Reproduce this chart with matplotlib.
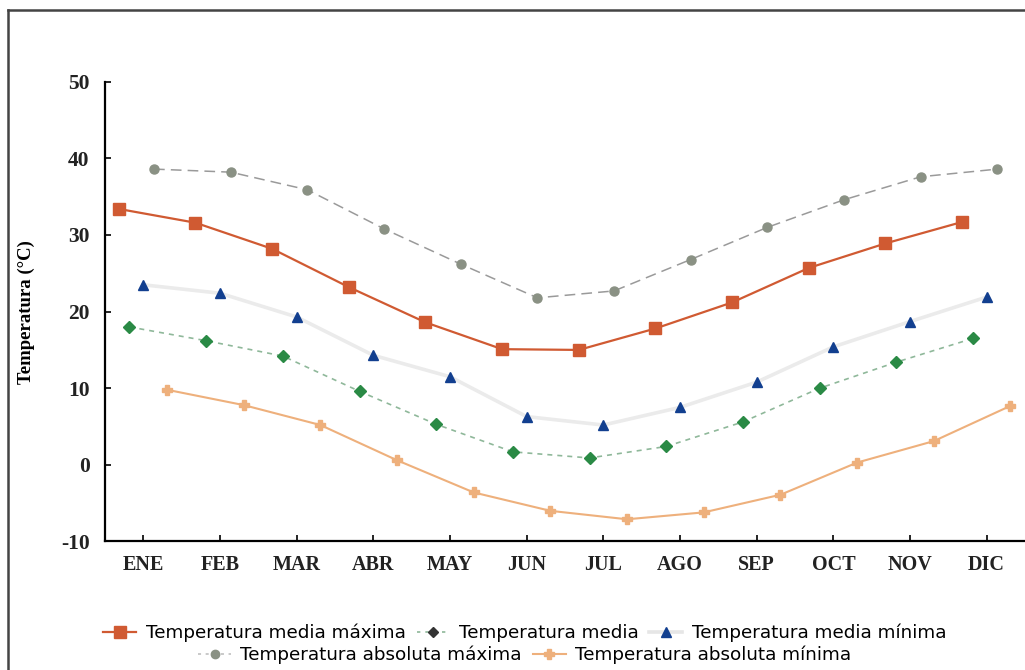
import matplotlib
matplotlib.use('Agg')
import matplotlib.pyplot as plt
import numpy as np
from matplotlib.lines import Line2D

plt.rcParams['axes.unicode_minus'] = False

meses = ['ENE', 'FEB', 'MAR', 'ABR', 'MAY', 'JUN', 'JUL', 'AGO', 'SEP', 'OCT', 'NOV', 'DIC']
media_maxima = [33.4, 31.6, 28.2, 23.2, 18.6, 15.1, 15.0, 17.8, 21.2, 25.7, 28.9, 31.7]
media = [18.0, 16.2, 14.2, 9.6, 5.3, 1.7, 0.9, 2.4, 5.6, 10.0, 13.4, 16.5]
media_minima = [23.5, 22.4, 19.3, 14.3, 11.5, 6.3, 5.2, 7.5, 10.8, 15.4, 18.7, 21.9]
absoluta_maxima = [38.6, 38.2, 35.9, 30.8, 26.2, 21.8, 22.7, 26.8, 31.0, 34.6, 37.6, 38.6]
absoluta_minima = [9.8, 7.8, 5.2, 0.6, -3.6, -6.0, -7.1, -6.2, -3.9, 0.3, 3.1, 7.7]

x = np.arange(len(meses))

fig = plt.figure(figsize=(10.25, 6.7), dpi=100)
ax = fig.add_axes([0.1024, 0.1918, 0.8976, 0.6862])

c_rojo = '#d05a32'
c_verde = '#2a8a45'
c_azul = '#123f8f'
c_gris = '#8a9184'
c_naranja = '#eeb07c'

# cada serie va desplazada dentro de su mes, como en el original
ax.plot(x - 0.32, media_maxima, color=c_rojo, lw=1.6, marker='s', ms=8, zorder=5)
ax.plot(x - 0.18, media, color='#8fb89a', lw=1.2, ls=(0, (3, 3)), marker='D',
        ms=6, mfc=c_verde, mec=c_verde, zorder=4)
ax.plot(x, media_minima, color='#ebebeb', lw=2.6, marker='^', ms=7.5,
        mfc=c_azul, mec=c_azul, zorder=3)
ax.plot(x + 0.14, absoluta_maxima, color='#9a9a9a', lw=1.1, ls=(0, (7, 4)), marker='o',
        ms=6.5, mfc=c_gris, mec=c_gris, zorder=3)
ax.plot(x + 0.31, absoluta_minima, color=c_naranja, lw=1.5, marker='P', ms=7.5, zorder=3)

ax.set_xlim(-0.5, 11.5)
ax.set_ylim(-10, 50)
ax.set_yticks(range(-10, 51, 10))
ax.set_xticks(x)
ax.set_xticklabels(meses)
ax.spines['top'].set_visible(False)
ax.spines['right'].set_visible(False)
for s in ['left', 'bottom']:
    ax.spines[s].set_linewidth(1.6)
ax.tick_params(direction='in', length=4, width=1.2, pad=10)
ax.tick_params(axis='y', pad=11)
for lab in ax.get_xticklabels():
    lab.set_fontfamily('Liberation Serif')
    lab.set_fontweight('bold')
    lab.set_fontsize(14.5)
    lab.set_color('#222222')
for lab in ax.get_yticklabels():
    lab.set_fontfamily('Liberation Serif')
    lab.set_fontweight('bold')
    lab.set_fontsize(15.5)
    lab.set_color('#222222')
ax.set_ylabel('Temperatura (°C)', family='Liberation Serif', weight='bold', fontsize=13.5)
ax.yaxis.set_label_coords(-0.076, 0.5)

# leyenda en dos filas
h1 = [Line2D([], [], color=c_rojo, lw=1.6, marker='s', ms=8),
      Line2D([], [], color='#8fb89a', lw=1.2, ls=(0, (2, 3)), marker='D', ms=5, mfc='#333333', mec='#333333'),
      Line2D([], [], color='#e6e6e6', lw=2.6, marker='^', ms=7, mfc=c_azul, mec=c_azul)]
l1 = ['Temperatura media máxima', 'Temperatura media', 'Temperatura media mínima']
h2 = [Line2D([], [], color='#bbbbbb', lw=1.1, ls=(0, (2, 3)), marker='o', ms=6, mfc=c_gris, mec=c_gris),
      Line2D([], [], color=c_naranja, lw=1.5, marker='P', ms=7)]
l2 = ['Temperatura absoluta máxima', 'Temperatura absoluta mínima']

kw = dict(frameon=False, loc='center', bbox_transform=fig.transFigure, borderpad=0,
          handlelength=1.8, handletextpad=0.5, columnspacing=0.6,
          prop={'family': 'DejaVu Sans', 'size': 13.2})
leg1 = fig.legend(h1, l1, ncol=3, bbox_to_anchor=(0.512, 0.0552), **kw)
leg2 = fig.legend(h2, l2, ncol=2, bbox_to_anchor=(0.512, 0.0224), **kw)

# marco de la figura
fig.add_artist(Line2D([0.008, 0.008], [0, 0.985], color='#444444', lw=1.8, transform=fig.transFigure))
fig.add_artist(Line2D([0.008, 1], [0.985, 0.985], color='#444444', lw=1.8, transform=fig.transFigure))

fig.savefig('out.png', dpi=100)
